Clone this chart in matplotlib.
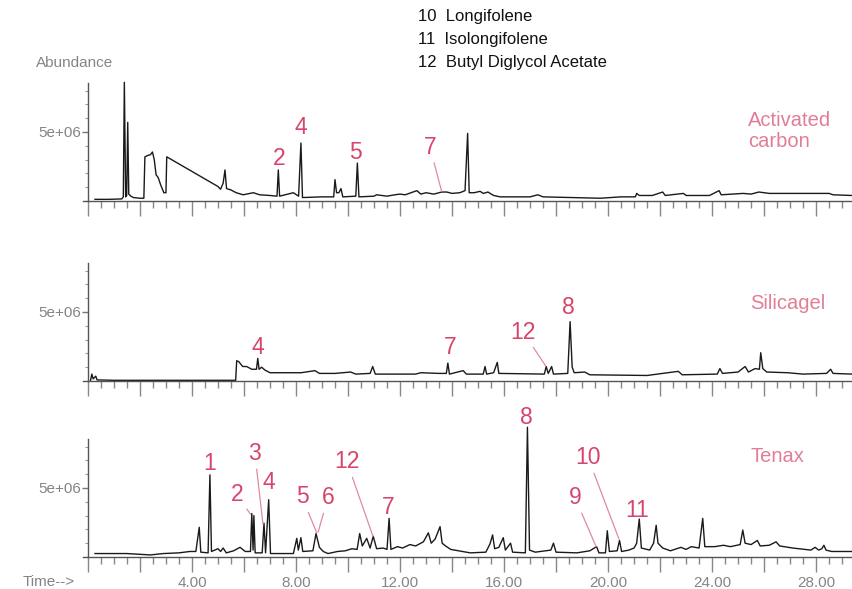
import matplotlib
matplotlib.use('Agg')
import matplotlib.pyplot as plt
from matplotlib.ticker import MultipleLocator, FixedLocator, FuncFormatter

plt.rcParams['font.family'] = ['Liberation Sans', 'DejaVu Sans']

# chromatogram traces (time in min, abundance in 1e6 counts)
carbon_t = [0.27, 0.8, 1.3, 1.36, 1.40, 1.45, 1.49, 1.53, 1.57, 1.65, 1.75, 2.0, 2.15, 2.19, 2.30, 2.40,
            2.48, 2.55, 2.62, 2.70, 2.80, 2.92, 3.0, 3.03, 5.0, 5.1, 5.2, 5.27, 5.33, 5.5, 5.7, 5.97,
            6.36, 6.6, 7.0, 7.27, 7.32, 7.37, 7.9, 8.1, 8.19, 8.25, 9.0, 9.45, 9.5, 9.56, 9.65, 9.73,
            9.8, 10.3, 10.36, 10.42, 11.0, 11.1, 11.5, 11.8, 12.0, 12.2, 12.65, 12.8, 13.0, 13.3, 13.6,
            13.8, 14.0, 14.3, 14.5, 14.6, 14.66, 14.85, 15.08, 15.2, 15.38, 15.6, 15.85, 17.0, 17.3,
            17.5, 19.7, 20.5, 21.05, 21.1, 21.2, 21.7, 22.1, 22.2, 22.9, 23.0, 23.9, 24.27, 24.35,
            25.2, 25.5, 25.8, 26.2, 27.4, 28.5, 28.65, 29.38]
carbon_v = [0.12, 0.12, 0.15, 0.3, 8.6, 0.3, 0.4, 5.7, 0.5, 0.35, 0.25, 0.2, 0.2, 3.2, 3.3, 3.35,
            3.55, 3.0, 1.9, 1.7, 1.15, 0.6, 0.6, 3.2, 1.05, 0.85, 1.3, 2.25, 0.9, 0.8, 0.6, 0.45,
            0.6, 0.45, 0.4, 0.35, 2.25, 0.35, 0.6, 0.35, 4.2, 0.25, 0.3, 0.3, 1.55, 0.6, 0.6, 0.9,
            0.3, 0.35, 2.75, 0.3, 0.35, 0.45, 0.35, 0.45, 0.5, 0.45, 0.75, 0.5, 0.6, 0.5, 0.65,
            0.65, 0.55, 0.6, 0.75, 4.9, 0.6, 0.6, 0.7, 0.55, 0.65, 0.4, 0.3, 0.3, 0.45,
            0.3, 0.2, 0.3, 0.3, 0.55, 0.4, 0.4, 0.65, 0.4, 0.55, 0.4, 0.4, 0.75, 0.45,
            0.55, 0.5, 0.65, 0.55, 0.55, 0.55, 0.45, 0.4]

silica_t = [0.1, 0.15, 0.2, 0.3, 0.35, 1.0, 3.0, 5.68, 5.72, 5.8, 5.95, 6.1, 6.3, 6.48, 6.53, 6.58,
            6.68, 6.8, 7.0, 8.2, 8.73, 8.9, 9.5, 10.1, 10.3, 10.85, 10.95, 11.05, 12.6, 12.8, 13.5,
            13.78, 13.84, 13.9, 14.43, 14.55, 15.2, 15.27, 15.33, 15.6, 15.74, 15.8, 17.55, 17.62,
            17.7, 17.83, 17.9, 18.45, 18.54, 18.62, 18.7, 19.1, 19.3, 21.5, 22.7, 22.85, 24.2, 24.3,
            24.4, 25.0, 25.27, 25.4, 25.65, 25.82, 25.87, 25.95, 26.1, 26.9, 27.5, 28.4, 28.56,
            28.65, 29.38]
silica_v = [0.05, 0.5, 0.15, 0.35, 0.08, 0.05, 0.05, 0.05, 1.47, 1.4, 1.05, 1.05, 0.85, 0.85, 1.64, 0.85,
            1.0, 0.8, 0.6, 0.6, 0.75, 0.55, 0.55, 0.65, 0.5, 0.55, 1.05, 0.5, 0.5, 0.6, 0.55,
            0.55, 1.3, 0.5, 0.75, 0.5, 0.5, 1.05, 0.5, 0.6, 1.35, 0.55, 0.5, 1.05,
            0.55, 1.05, 0.5, 0.55, 4.3, 1.0, 0.6, 0.65, 0.45, 0.4, 0.7, 0.45, 0.5, 0.9,
            0.55, 0.65, 1.05, 0.65, 0.9, 0.85, 2.05, 0.9, 0.65, 0.6, 0.5, 0.55, 0.85,
            0.55, 0.5]

tenax_t = [0.27, 1.5, 2.4, 2.9, 3.5, 3.92, 4.15, 4.28, 4.34, 4.62, 4.69, 4.75, 5.0, 5.1, 5.2, 5.32,
           5.6, 5.85, 6.05, 6.25, 6.3, 6.35, 6.38, 6.43, 6.7, 6.77, 6.83, 6.95, 7.02, 7.9, 8.03,
           8.09, 8.19, 8.26, 8.65, 8.77, 8.9, 9.05, 9.23, 9.6, 9.9, 10.15, 10.35, 10.45, 10.55,
           10.72, 10.85, 10.97, 11.1, 11.35, 11.5, 11.58, 11.65, 11.9, 12.1, 12.38, 12.6, 12.9,
           13.09, 13.2, 13.35, 13.54, 13.62, 13.75, 13.95, 14.7, 15.3, 15.46, 15.56, 15.64, 15.8,
           15.97, 16.05, 16.25, 16.33, 16.82, 16.9, 16.98, 17.2, 17.8, 17.9, 18.0, 18.8, 19.3,
           19.56, 19.65, 19.9, 19.97, 20.05, 20.35, 20.44, 20.52, 20.8, 21.0, 21.1, 21.2, 21.28,
           21.6, 21.75, 21.85, 21.92, 22.1, 22.4, 22.8, 23.0, 23.2, 23.5, 23.64, 23.72, 24.1,
           24.44, 24.7, 25.08, 25.18, 25.27, 25.5, 25.74, 25.85, 26.2, 26.46, 26.6, 27.1, 27.8,
           27.96, 28.1, 28.22, 28.3, 28.38, 28.6, 29.38]
tenax_v = [0.25, 0.25, 0.15, 0.25, 0.3, 0.4, 0.4, 2.15, 0.35, 0.3, 5.95, 0.4, 0.6, 0.4, 0.65, 0.3,
           0.45, 0.7, 0.4, 0.4, 3.15, 0.5, 3.0, 0.3, 0.3, 2.45, 0.3, 4.15, 0.25, 0.25, 1.35,
           0.5, 1.4, 0.4, 0.45, 1.7, 0.7, 0.4, 0.25, 0.4, 0.45, 0.6, 0.55, 1.7, 0.8,
           1.35, 0.65, 1.5, 0.6, 0.65, 0.55, 2.8, 0.55, 0.75, 0.65, 0.9, 0.8, 1.1,
           1.75, 1.0, 1.3, 2.2, 1.0, 0.8, 0.55, 0.3, 0.35, 0.95, 1.6, 0.6, 0.7,
           1.4, 0.5, 1.0, 0.35, 0.3, 9.4, 0.5, 0.35, 0.5, 1.0, 0.35, 0.3, 0.45,
           0.75, 0.3, 0.3, 1.9, 0.4, 0.45, 1.2, 0.4, 0.5, 0.65, 1.0, 2.75, 0.65,
           0.5, 1.0, 2.3, 1.0, 0.65, 0.45, 0.7, 0.55, 0.75, 0.65, 2.8, 0.75, 0.75,
           0.85, 0.75, 0.9, 1.95, 1.0, 0.9, 1.2, 0.8, 0.85, 1.1, 0.8, 0.65, 0.5,
           0.7, 0.5, 0.6, 0.85, 0.5, 0.4, 0.4]

# peak numbers: label, text position, leader end (None = no leader)
carbon_labels = [('2', (7.35, 3.1), None), ('4', (8.19, 5.3), None), ('5', (10.3, 3.55), None),
                 ('7', (13.15, 3.9), (13.6, 0.7))]
silica_labels = [('4', (6.54, 2.46), None), ('7', (13.92, 2.4), None),
                 ('12', (16.73, 3.55), (17.6, 1.1)), ('8', (18.46, 5.3), None)]
tenax_labels = [('1', (4.69, 6.8), None), ('2', (5.73, 4.5), (6.25, 3.1)),
                ('3', (6.42, 7.5), (6.73, 2.4)), ('4', (6.96, 5.4), None),
                ('5', (8.23, 4.35), (8.8, 1.75)), ('6', (9.23, 4.3), (8.85, 1.8)),
                ('12', (9.96, 6.9), (10.96, 1.5)), ('7', (11.54, 3.6), None),
                ('8', (16.85, 10.1), None), ('9', (18.73, 4.3), (19.54, 0.75)),
                ('10', (19.23, 7.2), (20.42, 1.3)), ('11', (21.12, 3.4), None)]

compounds = ['10  Longifolene', '11  Isolongifolene', '12  Butyl Diglycol Acetate']
panel_names = ['Activated\ncarbon', 'Silicagel', 'Tenax']
name_pos = [(25.38, 5.07), (25.46, 5.58), (25.46, 7.25)]

W, H = 852, 589
fig = plt.figure(figsize=(W / 100, H / 100), dpi=100)

num_col = '#d8456c'
name_col = '#e27d96'
gray = '#858585'

panels = [(carbon_t, carbon_v, carbon_labels, 201),
          (silica_t, silica_v, silica_labels, 381),
          (tenax_t, tenax_v, tenax_labels, 557)]

for i, (t, v, labels, base_px) in enumerate(panels):
    ax = fig.add_axes([83 / W, 1 - base_px / H, 769 / W, 118 / H])
    ax.plot(t, v, color='#1a1a1a', lw=1.0, clip_on=False)
    ax.set_xlim(-0.19, 29.38)
    ax.set_ylim(0, 8.55)
    for s in ['top', 'right']:
        ax.spines[s].set_visible(False)
    ax.spines['left'].set_position(('data', 0))
    for s in ['left', 'bottom']:
        ax.spines[s].set_color('#555555')
        ax.spines[s].set_linewidth(1.0)
    ax.xaxis.set_major_locator(MultipleLocator(2))
    ax.xaxis.set_minor_locator(MultipleLocator(0.5))
    ax.tick_params(axis='x', which='major', length=11, width=1, color='#888888',
                   labelsize=11, labelcolor=gray, pad=3)
    ax.tick_params(axis='x', which='minor', length=5, width=1, color='#888888')
    if i == 2:
        ax.xaxis.set_major_formatter(FuncFormatter(
            lambda x, p: '%.2f' % x if x > 0 and int(round(x)) % 4 == 0 else ''))
    else:
        ax.xaxis.set_major_formatter(FuncFormatter(lambda x, p: ''))
    ax.yaxis.set_major_locator(FixedLocator([5]))
    ax.yaxis.set_major_formatter(FuncFormatter(lambda y, p: '5e+06'))
    ax.yaxis.set_minor_locator(MultipleLocator(1))
    ax.tick_params(axis='y', which='major', length=4, width=1, color='#777777',
                   labelsize=11, labelcolor=gray, pad=1)
    ax.tick_params(axis='y', which='minor', length=2.5, width=0.8, color='#999999')
    ax.patch.set_visible(False)

    for lab, pos, end in labels:
        if end is None:
            ax.text(pos[0], pos[1], lab, color=num_col, fontsize=16.5, ha='center', va='center')
        else:
            ax.annotate(lab, xy=end, xytext=pos, color=num_col, fontsize=16.5,
                        ha='center', va='center', annotation_clip=False,
                        arrowprops=dict(arrowstyle='-', color='#e08aa0', lw=0.9,
                                        shrinkA=1, shrinkB=0))
    ax.text(name_pos[i][0], name_pos[i][1], panel_names[i], color=name_col, fontsize=14.5,
            ha='left', va='center', linespacing=1.15)

fig.text(36 / W, 1 - 63 / H, 'Abundance', fontsize=11, color=gray, ha='left', va='center')
fig.text(23 / W, 1 - 582 / H, 'Time-->', fontsize=11, color=gray, ha='left', va='center')

for k, line in enumerate(compounds):
    fig.text(418 / W, 1 - (16 + 23.5 * k) / H, line, fontsize=12, color='#111111',
             ha='left', va='center')

plt.savefig('out.png', dpi=100)
